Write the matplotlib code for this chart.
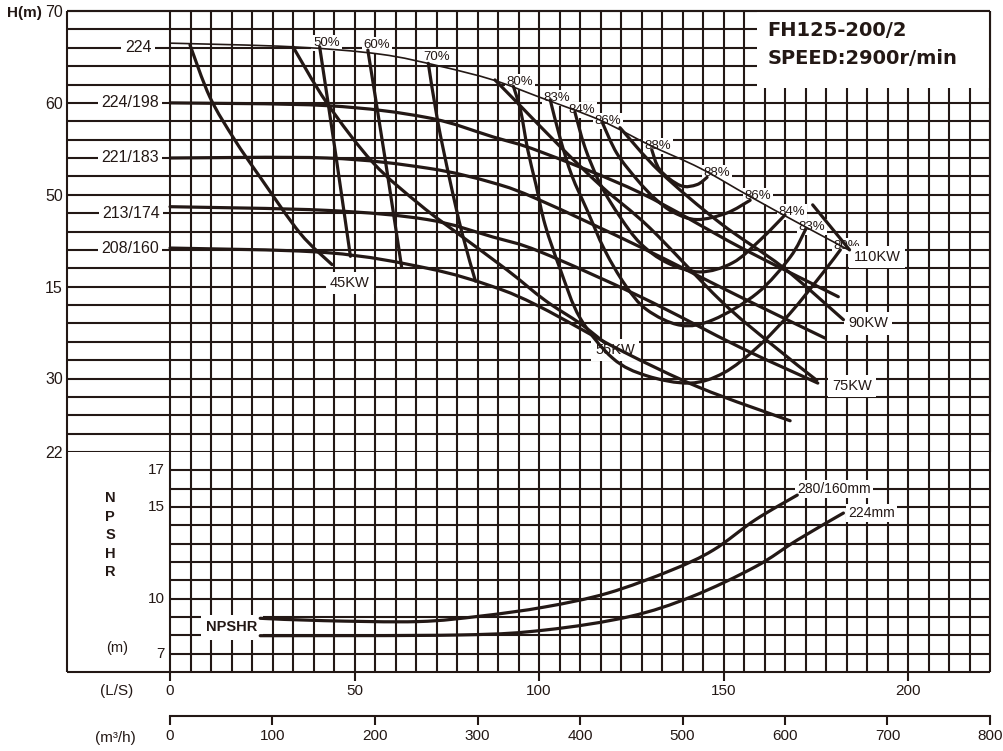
import matplotlib
matplotlib.use('Agg')
import matplotlib.pyplot as plt
from matplotlib.patches import Rectangle, PathPatch
from matplotlib.path import Path

plt.rcParams['font.family'] = ['Liberation Sans', 'DejaVu Sans']
INK = '#231815'

# ---------------- data ----------------
# Q in m3/h, H in m
q_224 = [0, 120, 205, 263, 315, 361, 420, 468, 517, 566, 615, 662]
h_224 = [66.5, 66.1, 65.3, 64.0, 62.5, 60.6, 58.1, 55.4, 52.9, 49.8, 46.8, 44.0]
q_224_198 = [0, 153, 251, 315, 361, 459, 556, 652]
h_224_198 = [60.0, 59.7, 58.4, 56.3, 54.7, 50.2, 44.3, 38.9]
q_221_183 = [0, 153, 251, 315, 361, 459, 556, 639]
h_221_183 = [54.0, 54.0, 52.9, 51.3, 49.4, 44.3, 38.9, 34.4]
q_213_174 = [0, 153, 251, 315, 361, 459, 556, 632]
h_213_174 = [48.7, 48.3, 47.3, 45.4, 43.8, 38.9, 33.4, 29.5]
q_208_160 = [0, 153, 251, 315, 361, 439, 517, 605]
h_208_160 = [44.2, 43.7, 42.0, 40.0, 37.8, 33.1, 29.0, 25.4]

# iso-efficiency lines
q_e50 = [146, 161, 176]
h_e50 = [66.1, 54.9, 43.3]
q_e60 = [193, 210, 226]
h_e60 = [65.75, 53.8, 42.1]
q_e70 = [252, 261, 273, 285, 298]
h_e70 = [64.3, 58.1, 51.6, 45.8, 40.6]
q_e80 = [335, 342, 349, 357, 366, 381, 400, 432, 465, 507, 540, 573, 605, 637, 654]
h_e80 = [61.8, 59.2, 54.9, 51.1, 46.7, 41.8, 36.6, 32.2, 30.3, 29.5, 30.6, 33.4, 37.1, 41.5, 44.0]
q_e83 = [371, 381, 392, 407, 424, 444, 465, 498, 530, 573, 605, 620]
h_e83 = [60.3, 56.0, 52.1, 48.3, 44.0, 40.2, 37.5, 35.8, 36.4, 39.3, 43.2, 46.2]
q_e84 = [395, 405, 420, 439, 459, 485, 517, 549, 576, 600]
h_e84 = [59.0, 55.1, 51.1, 47.6, 44.7, 42.6, 41.6, 42.6, 45.1, 47.8]
q_e86 = [422, 436, 456, 473, 491, 514, 543, 566]
h_e86 = [57.8, 54.5, 51.6, 49.6, 48.1, 47.3, 48.0, 49.4]
q_e88 = [470, 478, 498, 514, 524]
h_e88 = [54.9, 52.7, 51.0, 51.1, 51.9]

# power lines
q_p45 = [19.5, 39, 63, 88, 127, 158]
h_p45 = [66.3, 60.6, 56.0, 51.9, 45.8, 42.4]
q_p55 = [120, 153, 198, 244, 283, 329, 366, 400, 424]
h_p55 = [66.1, 60.0, 53.5, 48.9, 45.6, 41.8, 38.5, 36.0, 33.9]
q_p75 = [317, 339, 381, 422, 468, 537, 585, 631]
h_p75 = [62.5, 60.0, 55.2, 50.8, 46.4, 38.5, 33.9, 29.8]
q_p90 = [439, 478, 537, 598, 657]
h_p90 = [57.3, 52.5, 46.9, 42.1, 36.4]
q_p110 = [627, 663]
h_p110 = [48.9, 44.0]

# NPSHR curves
q_npsh_280 = [88, 150, 242, 303, 366, 427, 489, 530, 571, 612]
n_npsh_280 = [8.93, 8.8, 8.75, 9.05, 9.55, 10.3, 11.55, 12.65, 14.3, 15.65]
q_npsh_224 = [88, 283, 366, 448, 509, 571, 612, 657]
n_npsh_224 = [7.98, 8.02, 8.29, 9.02, 10.11, 11.74, 13.2, 14.67]

# labels
dia_labels = ['224', '224/198', '221/183', '213/174', '208/160']
dia_label_q = [-31, -39, -39, -38, -39]
dia_label_h = [66.0, 60.0, 54.0, 48.0, 44.1]

eff_labels = ['50%', '60%', '70%', '80%', '83%', '84%', '86%', '88%',
              '88%', '86%', '84%', '83%', '80%']
eff_label_q = [153, 202, 260.5, 341.5, 377.6, 402, 427.3, 476.1,
               533.7, 573.7, 606.8, 626.3, 660.5]
eff_label_h = [66.5, 66.3, 65.0, 62.3, 60.5, 59.2, 58.0, 55.3,
               52.4, 49.9, 48.1, 46.5, 44.4]

kw_labels = ['45KW', '55KW', '75KW', '90KW', '110KW']
kw_label_q = [175.6, 434.1, 665.4, 681, 689.8]
kw_label_h = [40.4, 33.1, 29.2, 36.0, 43.2]

h_ticks = [70, 60, 50, 40, 30, 22]
h_tick_labels = ['70', '60', '50', '15', '30', '22']
npsh_ticks = [17, 15, 10, 7]
ls_ticks = [0, 50, 100, 150, 200]
m3h_ticks = [0, 100, 200, 300, 400, 500, 600, 700, 800]


def smooth_curve(ax, xs, ys, lw=2.3, z=3):
    """Draw a smooth curve through the given points (Catmull-Rom -> Bezier)."""
    pts = list(zip(xs, ys))
    n = len(pts)
    verts = [pts[0]]
    codes = [Path.MOVETO]
    for i in range(n - 1):
        p0 = pts[i - 1] if i > 0 else pts[i]
        p1 = pts[i]
        p2 = pts[i + 1]
        p3 = pts[i + 2] if i + 2 < n else pts[i + 1]
        c1 = (p1[0] + (p2[0] - p0[0]) / 6, p1[1] + (p2[1] - p0[1]) / 6)
        c2 = (p2[0] - (p3[0] - p1[0]) / 6, p2[1] - (p3[1] - p1[1]) / 6)
        verts += [c1, c2, p2]
        codes += [Path.CURVE4] * 3
    ax.add_patch(PathPatch(Path(verts, codes), facecolor='none', edgecolor=INK,
                           lw=lw, zorder=z, capstyle='round', joinstyle='round'))


# ---------------- figure ----------------
fig = plt.figure(figsize=(10.04, 7.51), dpi=100)
L, W = 67 / 1004, 923 / 1004
QMIN, QMAX = -100.5, 800
ax_h = fig.add_axes([L, 1 - 452 / 751, W, 441 / 751])
ax_n = fig.add_axes([L, 1 - 672 / 751, W, 220 / 751])
for ax in (ax_h, ax_n):
    ax.set_xlim(QMIN, QMAX)
    for s in ax.spines.values():
        s.set_visible(False)
ax_h.set_ylim(22, 70)
ax_n.set_ylim(6, 18)

GLW = 1.5
# grid - head part
for h in range(22, 71, 2):
    ax_h.hlines(h, QMIN, QMAX, color=INK, lw=GLW, zorder=1, clip_on=False)
for q in range(0, 801, 20):
    ax_h.vlines(q, 22, 70, color=INK, lw=GLW, zorder=1, clip_on=False)
ax_h.vlines(QMIN, 22, 70, color=INK, lw=GLW, zorder=4, clip_on=False)
ax_h.vlines(QMAX, 22, 70, color=INK, lw=GLW, zorder=4, clip_on=False)
ax_h.hlines(70, QMIN, QMAX, color=INK, lw=GLW, zorder=4, clip_on=False)
# title box
ax_h.add_patch(Rectangle((572.7, 61.6), 800 - 572.7, 70 - 61.6,
                         facecolor='white', edgecolor='none', zorder=2))

# grid - NPSHR part
for n in range(7, 18):
    ax_n.hlines(n, 0, QMAX, color=INK, lw=GLW, zorder=1, clip_on=False)
ax_n.hlines(6, QMIN, QMAX, color=INK, lw=GLW, zorder=4, clip_on=False)
for q in range(0, 801, 20):
    ax_n.vlines(q, 6, 18, color=INK, lw=GLW, zorder=1, clip_on=False)
ax_n.vlines(QMIN, 6, 18, color=INK, lw=GLW, zorder=4, clip_on=False)

# H-Q curves
smooth_curve(ax_h, q_224, h_224, lw=1.2)
for qq, hh in [(q_224_198, h_224_198), (q_221_183, h_221_183),
               (q_213_174, h_213_174), (q_208_160, h_208_160)]:
    smooth_curve(ax_h, qq, hh)
# efficiency
for qq, hh in [(q_e50, h_e50), (q_e60, h_e60), (q_e70, h_e70), (q_e80, h_e80),
               (q_e83, h_e83), (q_e84, h_e84), (q_e86, h_e86), (q_e88, h_e88)]:
    smooth_curve(ax_h, qq, hh)
# power
for qq, hh in [(q_p45, h_p45), (q_p55, h_p55), (q_p75, h_p75),
               (q_p90, h_p90), (q_p110, h_p110)]:
    smooth_curve(ax_h, qq, hh)

# NPSHR curves
smooth_curve(ax_n, q_npsh_280, n_npsh_280)
smooth_curve(ax_n, q_npsh_224, n_npsh_224)

wb = dict(facecolor='white', edgecolor='none', pad=2.5)
for t, q, h in zip(dia_labels, dia_label_q, dia_label_h):
    ax_h.text(q, h, t, ha='center', va='center', fontsize=11.5, color=INK,
              bbox=wb, zorder=2.5)
for t, q, h in zip(eff_labels, eff_label_q, eff_label_h):
    ax_h.text(q, h, t, ha='center', va='center', fontsize=9.5, color=INK,
              bbox=dict(facecolor='white', edgecolor='none', pad=1.5), zorder=2.5)
for t, q, h in zip(kw_labels, kw_label_q, kw_label_h):
    ax_h.text(q, h, t, ha='center', va='center', fontsize=10.5, color=INK,
              bbox=dict(facecolor='white', edgecolor='none', pad=3), zorder=2.5)

ax_h.text(583, 67.9, 'FH125-200/2', ha='left', va='center', fontsize=14,
          fontweight='bold', family='DejaVu Sans', color=INK, zorder=5)
ax_h.text(583, 64.8, 'SPEED:2900r/min', ha='left', va='center', fontsize=14,
          fontweight='bold', family='DejaVu Sans', color=INK, zorder=5)

# y ticks head
ax_h.set_xticks([])
ax_h.set_yticks(h_ticks)
ax_h.set_yticklabels(h_tick_labels)
ax_h.tick_params(axis='y', length=0, pad=3, labelsize=11.5, labelcolor=INK)

# NPSHR axis text
for n in npsh_ticks:
    ax_n.text(-5, n, str(n), ha='right', va='center', fontsize=11, color=INK)
for i, ch in enumerate('NPSHR'):
    ax_n.text(-58.5, 15.49 - i * 1.01, ch, ha='center', va='center',
              fontsize=10.5, fontweight='bold', color=INK)
ax_n.text(-51.7, 7.31, '(m)', ha='center', va='center', fontsize=10.5, color=INK)
ax_n.text(60.5, 8.45, 'NPSHR', ha='center', va='center', fontsize=10.5,
          fontweight='bold', color=INK,
          bbox=dict(facecolor='white', edgecolor='none', pad=4), zorder=2.5)
ax_n.text(611.7, 15.98, '280/160mm', ha='left', va='center', fontsize=10,
          color=INK, bbox=dict(facecolor='white', edgecolor='none', pad=1.5),
          zorder=2.5)
ax_n.text(661.5, 14.67, '224mm', ha='left', va='center', fontsize=10,
          color=INK, bbox=dict(facecolor='white', edgecolor='none', pad=1.5),
          zorder=2.5)

# L/S axis (on NPSHR axes bottom)
ax_n.set_yticks([])
ax_n.set_xticks([v * 3.6 for v in ls_ticks])
ax_n.set_xticklabels([str(v) for v in ls_ticks])
ax_n.tick_params(axis='x', direction='out', length=6.5, width=GLW, color=INK,
                 pad=2, labelsize=11, labelcolor=INK)

# m3/h axis
ax_m = fig.add_axes([170 / 1004, 1 - 716 / 751, 820 / 1004, 0.0001])
ax_m.set_xlim(0, 800)
for s in ('top', 'left', 'right'):
    ax_m.spines[s].set_visible(False)
ax_m.spines['bottom'].set_linewidth(GLW)
ax_m.spines['bottom'].set_color(INK)
ax_m.set_yticks([])
ax_m.set_xticks(m3h_ticks)
ax_m.set_xticklabels([str(v) for v in m3h_ticks])
ax_m.tick_params(axis='x', direction='out', length=6.5, width=GLW, color=INK,
                 pad=3, labelsize=11, labelcolor=INK)

fig.text(7 / 1004, 1 - 13 / 751, 'H(m)', ha='left', va='center', fontsize=11,
         fontweight='bold', color=INK)
fig.text(117 / 1004, 1 - 691 / 751, '(L/S)', ha='center', va='center',
         fontsize=11, color=INK)
fig.text(115 / 1004, 1 - 738 / 751, '(m³/h)', ha='center', va='center',
         fontsize=11, color=INK)

fig.savefig('out.png', dpi=100, facecolor='white')
